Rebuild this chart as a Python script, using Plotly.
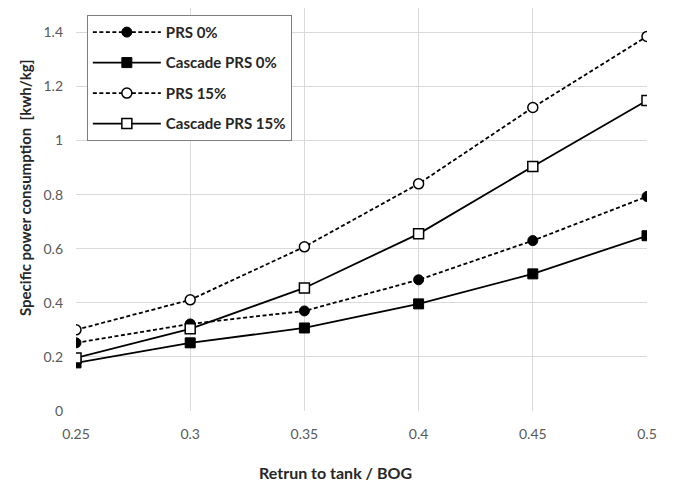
import plotly.graph_objects as go

x_vals = [0.25, 0.3, 0.35, 0.4, 0.45, 0.5]
prs_0 = [0.252, 0.322, 0.37, 0.485, 0.63, 0.793]
cascade_prs_0 = [0.178, 0.252, 0.307, 0.396, 0.507, 0.648]
prs_15 = [0.30, 0.411, 0.607, 0.84, 1.122, 1.385]
cascade_prs_15 = [0.196, 0.304, 0.455, 0.655, 0.904, 1.148]

x_ticks = [0.25, 0.3, 0.35, 0.4, 0.45, 0.5]
x_tick_labels = ["0.25", "0.3", "0.35", "0.4", "0.45", "0.5"]
y_ticks = [0, 0.2, 0.4, 0.6, 0.8, 1.0, 1.2, 1.4]
y_tick_labels = ["0", "0.2", "0.4", "0.6", "0.8", "1", "1.2", "1.4"]

FONT = "Lato"
DASH = "4px,2.5px"

fig = go.Figure()
fig.add_trace(go.Scatter(
    x=x_vals, y=prs_0, name="PRS 0%", mode="lines+markers", legendgroup="a",
    line=dict(color="black", width=1.8, dash=DASH),
    marker=dict(symbol="circle", size=10, color="black", line=dict(color="black", width=1)),
))
fig.add_trace(go.Scatter(
    x=x_vals, y=cascade_prs_0, name="Cascade PRS 0%", mode="lines+markers", legendgroup="b",
    line=dict(color="black", width=1.8),
    marker=dict(symbol="square", size=10, color="black", line=dict(color="black", width=1)),
))
fig.add_trace(go.Scatter(
    x=x_vals, y=prs_15, name="PRS 15%", mode="lines+markers", legendgroup="c",
    line=dict(color="black", width=1.8, dash=DASH),
    marker=dict(symbol="circle", size=10, color="white", line=dict(color="black", width=1.5)),
))
fig.add_trace(go.Scatter(
    x=x_vals, y=cascade_prs_15, name="Cascade PRS 15%", mode="lines+markers", legendgroup="d",
    line=dict(color="black", width=1.8),
    marker=dict(symbol="square", size=10, color="white", line=dict(color="black", width=1.5)),
))

fig.update_layout(
    width=673, height=483,
    margin=dict(l=76, r=26, t=8, b=72),
    paper_bgcolor="white", plot_bgcolor="white",
    font=dict(family=FONT, size=13, color="#404040"),
    showlegend=True,
    legend=dict(
        x=0.019, y=0.983, xanchor="left", yanchor="top",
        bgcolor="white", bordercolor="#7f7f7f", borderwidth=1,
        font=dict(family=FONT, size=15, color="#262626", weight="bold"),
        tracegroupgap=8, itemwidth=68, entrywidth=210,
    ),
    xaxis=dict(
        range=[0.25, 0.5], tickvals=x_ticks, ticktext=x_tick_labels,
        showgrid=True, gridcolor="#d9d9d9", gridwidth=1, automargin=False,
        zeroline=False, showline=False, ticks="", ticklabelstandoff=13,
        tickfont=dict(family=FONT, size=14, color="#595959"),
    ),
    yaxis=dict(
        range=[0, 1.49], tickvals=y_ticks, ticktext=y_tick_labels,
        showgrid=True, gridcolor="#d9d9d9", gridwidth=1, automargin=False,
        zeroline=False, showline=False, ticks="", ticklabelstandoff=12,
        tickfont=dict(family=FONT, size=14, color="#595959"),
    ),
    annotations=[
        dict(
            text="Specific power consumption  [kwh/kg]", textangle=-90,
            xref="paper", yref="paper", x=(25 - 76) / 571, y=(411 - 188) / 403,
            xanchor="center", yanchor="middle", showarrow=False,
            font=dict(family=FONT, size=15, color="#262626", weight="bold"),
        ),
        dict(
            text="Retrun to tank / BOG",
            xref="paper", yref="paper", x=(335 - 76) / 571, y=(411 - 473) / 403,
            xanchor="center", yanchor="middle", showarrow=False,
            font=dict(family=FONT, size=16, color="#262626", weight="bold"),
        ),
    ],
)

fig.write_html("out.html")
